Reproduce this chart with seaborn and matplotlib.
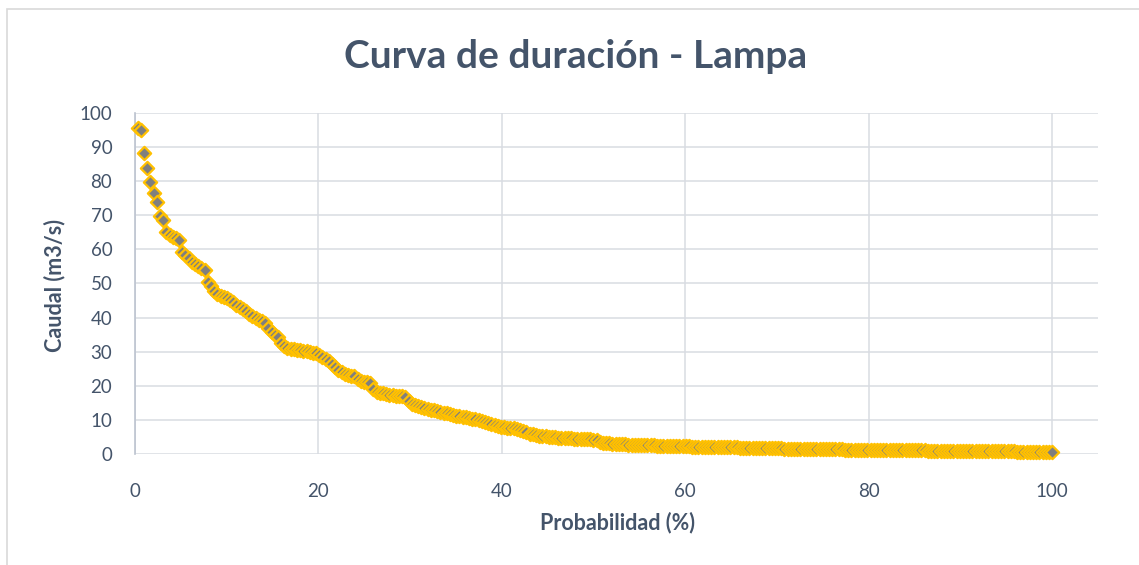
import numpy as np
import pandas as pd
import seaborn as sns
import matplotlib.pyplot as plt
from matplotlib.patches import Rectangle

# Caudales ordenados de mayor a menor (m3/s)
caudal = [
    95.5, 95.0, 88.3, 83.8, 79.8, 76.4, 74.0, 69.8, 68.5, 65.0,
    64.2, 63.5, 63.2, 62.8, 59.3, 58.3, 57.4, 56.4, 55.6, 55.0,
    54.6, 54.0, 50.3, 49.2, 47.8, 46.8, 46.2, 45.9, 45.6, 45.2,
    44.5, 43.8, 43.2, 42.5, 41.8, 41.1, 40.4, 39.8, 39.3, 39.0,
    38.5, 36.8, 35.8, 35.0, 34.2, 32.6, 31.8, 31.2, 30.9, 30.7,
    30.5, 30.4, 30.2, 30.1, 29.9, 29.7, 29.5, 29.1, 28.5, 27.9,
    27.2, 26.4, 25.6, 24.6, 24.0, 23.5, 23.2, 23.0, 22.9, 22.0,
    21.5, 21.2, 21.0, 20.7, 19.2, 18.3, 18.0, 17.8, 17.6, 17.4,
    17.3, 17.1, 17.0, 16.9, 16.7, 15.6, 14.8, 14.3, 14.0, 13.8,
    13.5, 13.2, 13.0, 12.8, 12.6, 12.4, 12.1, 11.9, 11.7, 11.4,
    11.2, 11.0, 10.9, 10.7, 10.5, 10.4, 10.2, 10.0, 9.8, 9.5,
    9.2, 8.9, 8.6, 8.3, 8.0, 7.9, 7.7, 7.6, 7.5, 7.3,
    7.0, 6.6, 6.3, 6.0, 5.8, 5.6, 5.4, 5.3, 5.2, 5.1,
    5.0, 4.9, 4.8, 4.75, 4.7, 4.6, 4.55, 4.5, 4.45, 4.4,
    4.35, 4.3, 4.25, 4.2, 4.1, 3.6, 3.3, 3.2, 3.1, 3.0,
    2.95, 2.9, 2.85, 2.8, 2.75, 2.7,
    2.65, 2.62, 2.60, 2.57, 2.55, 2.52, 2.50, 2.47, 2.45, 2.42,
    2.40, 2.37, 2.34, 2.31, 2.28, 2.25,
    2.22, 2.20, 2.18, 2.16, 2.14, 2.12, 2.10, 2.08, 2.06, 2.04,
    2.02, 2.00, 1.98, 1.96, 1.94, 1.92, 1.90, 1.88, 1.86, 1.84,
    1.82, 1.80, 1.78, 1.76, 1.74, 1.72, 1.70, 1.68, 1.66,
    1.63, 1.61, 1.60, 1.58, 1.57, 1.55, 1.54, 1.52, 1.51, 1.49,
    1.48, 1.46, 1.45, 1.43, 1.42, 1.40, 1.39, 1.37, 1.36, 1.34,
    1.33, 1.31, 1.30, 1.28, 1.27, 1.25, 1.24, 1.22,
    1.20, 1.19, 1.18, 1.17, 1.16, 1.15, 1.14, 1.13, 1.12, 1.11,
    1.10, 1.09, 1.08, 1.07, 1.06, 1.05, 1.04, 1.03, 1.02, 1.01,
    1.00, 0.99, 0.98, 0.97, 0.96, 0.95, 0.94, 0.93, 0.92,
    0.90, 0.89, 0.88, 0.87, 0.86, 0.85, 0.84, 0.83, 0.82, 0.81,
    0.80, 0.79, 0.78, 0.77, 0.76, 0.75, 0.74, 0.73, 0.72, 0.71,
    0.70, 0.69, 0.68, 0.67, 0.66, 0.64, 0.62, 0.60, 0.56, 0.45,
]

# Probabilidad de excedencia: rango / n * 100
n = len(caudal)
probabilidad = [100.0 * (k + 1) / n for k in range(n)]

x_ticks = [0, 20, 40, 60, 80, 100]
y_ticks = [0, 10, 20, 30, 40, 50, 60, 70, 80, 90, 100]

titulo = "Curva de duración - Lampa"
etiqueta_x = "Probabilidad (%)"
etiqueta_y = "Caudal (m3/s)"

df = pd.DataFrame({"Probabilidad": probabilidad, "Caudal": caudal})

sns.set_style("white")
plt.rcParams["font.family"] = ["Lato", "DejaVu Sans"]

text_color = "#44546A"
grid_color = "#D9DCE2"

fig = plt.figure(figsize=(11.39, 5.65), dpi=100)
ax = fig.add_axes([0.1181, 0.1965, 0.9640 - 0.1181, 0.8 - 0.1965])

sns.scatterplot(
    data=df, x="Probabilidad", y="Caudal", ax=ax,
    marker="D", s=46, color="#7F7F7F", edgecolor="#FFC000",
    linewidth=1.6, zorder=3, legend=False, clip_on=False,
)

ax.set_xlim(0, 105)
ax.set_ylim(0, 100)
ax.set_xticks(x_ticks)
ax.set_yticks(y_ticks)
ax.grid(True, color=grid_color, linewidth=1.1)
ax.set_axisbelow(True)

for side in ["top", "right", "bottom"]:
    ax.spines[side].set_visible(False)
ax.spines["left"].set_color("#BCC3CF")
ax.spines["left"].set_linewidth(1.2)

ax.tick_params(axis="both", length=0, labelsize=13.5, labelcolor=text_color)
ax.tick_params(axis="x", pad=21)
ax.tick_params(axis="y", pad=16)

ax.set_xlabel("")
ax.set_ylabel("")
fig.text(617 / 1139, 1 - 523 / 565, etiqueta_x, ha="center", va="center",
         fontsize=15.5, fontweight="bold", color=text_color)
fig.text(55 / 1139, 1 - 285 / 565, etiqueta_y, ha="center", va="center",
         rotation=90, fontsize=15.5, fontweight="bold", color=text_color)
fig.text(576 / 1139, 1 - 57 / 565, titulo, ha="center", va="center",
         fontsize=28, fontweight="bold", color=text_color)

# Marco del gráfico
fig.patches.append(Rectangle((7 / 1139, -0.1), 1.2, 1 - 9 / 565 + 0.1,
                             transform=fig.transFigure, fill=False,
                             edgecolor="#D9D9D9", linewidth=1.2))

fig.savefig("out.png", dpi=100)
